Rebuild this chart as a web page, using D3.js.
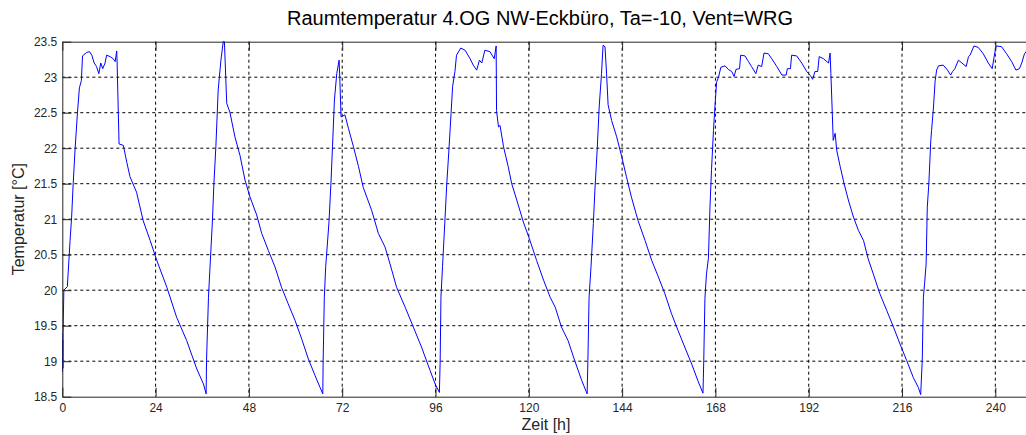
<!DOCTYPE html>
<html>
<head>
<meta charset="utf-8">
<script src="https://cdn.jsdelivr.net/npm/d3@7"></script>
<style>
  html, body { margin: 0; padding: 0; background: #fff; overflow: hidden; }
  svg { display: block; font-family: Arial, "Liberation Sans", sans-serif; }
</style>
</head>
<body>
<svg width="1026" height="435"></svg>
<script>
// Zeit [h] and Raumtemperatur [°C]
const hours = [
  0, 0.05, 0.1, 0.15, 0.2, 0.4, 1.3, 2.0, 2.4, 2.8, 3.3, 3.9, 4.4, 4.9, 5.2, 6.3, 7.0, 7.6, 8.2, 8.8,
  9.4, 9.9, 10.4, 11.0, 11.4, 12.3, 13.1, 13.6, 14.0, 14.1, 14.6, 15.7, 16.6, 17.4, 19.1, 20.8, 22.6, 24.3, 26.9, 29.4,
  32.0, 34.6, 36.3, 37.0, 37.1, 37.6, 38.0, 38.6, 39.0, 39.5, 40.1, 40.8, 41.4, 41.7, 42.3, 43.1, 44.4, 45.7, 47.0, 48.3,
  50.0, 51.3, 53.0, 54.7, 56.4, 58.1, 59.9, 61.6, 63.3, 65.0, 66.3, 67.0, 67.1, 67.4, 67.75, 68.6, 69.1, 69.5, 70.0, 70.6,
  71.2, 71.4, 71.7, 72.7, 73.6, 74.9, 76.2, 77.4, 79.6, 81.3, 83.0, 84.3, 86.0, 88.2, 90.3, 92.4, 94.6, 95.9, 97.0, 97.2,
  97.4, 97.8, 98.4, 98.9, 99.5, 100.0, 100.4, 101.0, 101.4, 102.5, 103.6, 104.9, 105.7, 106.6, 107.3, 107.9, 108.7, 110.0, 111.1, 111.6,
  111.7, 112.2, 112.6, 113.5, 114.7, 115.6, 116.9, 118.6, 120.3, 122.0, 123.8, 125.5, 126.8, 128.4, 130.1, 131.8, 133.6, 135.0, 135.2, 135.5,
  136.0, 136.6, 137.0, 137.6, 138.1, 138.7, 139.1, 139.6, 140.0, 140.4, 141.3, 142.6, 143.9, 145.1, 146.4, 148.1, 149.9, 151.6, 153.3, 155.0,
  156.7, 158.4, 160.1, 161.9, 163.6, 164.8, 165.0, 165.3, 165.7, 166.2, 166.6, 167.0, 167.5, 167.9, 168.3, 168.8, 169.4, 170.5, 171.3, 172.2,
  172.8, 173.3, 174.2, 174.5, 175.6, 176.5, 177.3, 178.4, 179.0, 179.9, 180.5, 181.6, 182.5, 183.8, 185.1, 186.2, 186.5, 187.3, 187.6, 188.9,
  190.2, 191.5, 192.6, 193.0, 193.6, 194.3, 194.7, 195.8, 197.1, 197.5, 197.7, 198.1, 198.3, 198.8, 199.2, 200.1, 201.1, 202.2, 203.5, 204.8,
  206.1, 207.3, 208.6, 210.3, 212.1, 213.8, 215.5, 217.2, 218.9, 220.2, 220.8, 221.2, 221.5, 221.8, 222.2, 222.5, 222.9, 223.4, 223.6, 224.1,
  224.5, 224.9, 225.4, 226.6, 227.7, 228.5, 229.0, 229.6, 230.5, 231.4, 232.5, 233.1, 233.5, 234.5, 235.6, 236.9, 238.2, 239.2, 239.7, 240.2,
  241.6, 242.9, 244.2, 245.3, 246.2, 246.8, 247.5, 248.5
];
const temps = [
  19.4, 18.85, 19.3, 18.9, 19.4, 20.0, 20.05, 20.7, 21.03, 21.5, 22.0, 22.5, 22.85, 22.95, 23.3, 23.35, 23.36, 23.31, 23.2, 23.15,
  23.05, 23.2, 23.12, 23.2, 23.31, 23.29, 23.26, 23.22, 23.37, 23.2, 22.06, 22.04, 21.8, 21.6, 21.38, 20.98, 20.7, 20.42, 20.04, 19.62,
  19.29, 18.89, 18.68, 18.54, 19.01, 19.9, 20.33, 20.96, 21.5, 22.02, 22.82, 23.24, 23.5, 23.5, 22.63, 22.51, 22.16, 21.9, 21.55, 21.31,
  21.06, 20.8, 20.56, 20.33, 20.04, 19.81, 19.57, 19.31, 19.03, 18.8, 18.63, 18.54, 19.01, 19.9, 20.33, 20.96, 21.5, 22.02, 22.68, 23.05,
  23.24, 22.96, 22.44, 22.47, 22.28, 22.02, 21.74, 21.45, 21.12, 20.8, 20.61, 20.37, 20.04, 19.76, 19.48, 19.2, 18.87, 18.68, 18.56, 19.01,
  19.9, 20.33, 20.96, 21.5, 22.02, 22.49, 22.87, 23.08, 23.31, 23.41, 23.38, 23.26, 23.17, 23.1, 23.24, 23.2, 23.38, 23.36, 23.26, 23.44,
  22.53, 22.3, 22.32, 22.02, 21.74, 21.5, 21.27, 20.96, 20.7, 20.42, 20.14, 19.9, 19.76, 19.48, 19.29, 19.01, 18.73, 18.54, 19.01, 19.9,
  20.33, 20.94, 21.41, 21.99, 22.58, 23.05, 23.45, 23.43, 23.05, 22.61, 22.39, 22.16, 21.88, 21.6, 21.31, 20.98, 20.7, 20.42, 20.19, 19.95,
  19.67, 19.43, 19.2, 18.96, 18.71, 18.55, 19.01, 19.88, 20.23, 20.45, 21.17, 21.7, 22.25, 22.6, 22.93, 23.0, 23.14, 23.16, 23.11, 23.08,
  23.01, 23.11, 23.12, 23.31, 23.3, 23.22, 23.15, 23.05, 23.17, 23.15, 23.34, 23.33, 23.26, 23.15, 23.03, 23.03, 23.12, 23.12, 23.31, 23.3,
  23.2, 23.08, 23.01, 22.97, 23.08, 23.08, 23.29, 23.26, 23.2, 23.34, 23.05, 22.44, 22.11, 22.21, 21.97, 21.74, 21.5, 21.27, 21.03, 20.84,
  20.7, 20.44, 20.23, 19.95, 19.71, 19.48, 19.24, 19.01, 18.77, 18.63, 18.53, 19.01, 19.9, 20.09, 20.37, 21.17, 21.5, 22.11, 22.25, 22.58,
  22.94, 23.1, 23.16, 23.17, 23.1, 23.03, 23.08, 23.12, 23.24, 23.2, 23.15, 23.29, 23.31, 23.44, 23.42, 23.33, 23.2, 23.12, 23.29, 23.44,
  23.43, 23.33, 23.22, 23.1, 23.12, 23.2, 23.33, 23.4
];
const xTicks = [0, 24, 48, 72, 96, 120, 144, 168, 192, 216, 240];
const yTicks = [18.5, 19, 19.5, 20, 20.5, 21, 21.5, 22, 22.5, 23, 23.5];

const titleText = "Raumtemperatur 4.OG NW-Eckbüro, Ta=-10, Vent=WRG";
const xLabelText = "Zeit [h]";
const yLabelText = "Temperatur [°C]";

const svg = d3.select("svg");

// plot box; the right part runs past the window edge like in the picture
const margin = { left: 62.3, top: 41.7 };
const plotW = 971.9;
const plotH = 355;

const x = d3.scaleLinear().domain([0, 250]).range([margin.left, margin.left + plotW]);
const y = d3.scaleLinear().domain([18.5, 23.5]).range([margin.top + plotH, margin.top]);

// grid
const grid = svg.append("g")
  .attr("stroke", "#000")
  .attr("stroke-width", 1)
  .attr("stroke-dasharray", "3,3");

grid.selectAll(".vgrid")
  .data(xTicks.filter(d => d > 0))
  .join("line")
  .attr("x1", d => x(d)).attr("x2", d => x(d))
  .attr("y1", y(23.5)).attr("y2", y(18.5));

grid.selectAll(".hgrid")
  .data(yTicks.filter(d => d > 18.5 && d < 23.5))
  .join("line")
  .attr("y1", d => y(d)).attr("y2", d => y(d))
  .attr("x1", x(0)).attr("x2", x(250));

// curve
svg.append("clipPath").attr("id", "clip")
  .append("rect")
  .attr("x", margin.left).attr("y", margin.top - 1)
  .attr("width", plotW).attr("height", plotH + 1);

const line = d3.line()
  .x((d, i) => x(hours[i]))
  .y(d => y(d));

svg.append("path")
  .datum(temps)
  .attr("clip-path", "url(#clip)")
  .attr("fill", "none")
  .attr("stroke", "#0000ff")
  .attr("stroke-width", 1)
  .attr("stroke-linejoin", "round")
  .attr("d", line);

// axes
const fmt = d3.format("~g");

const xAxis = svg.append("g")
  .attr("transform", `translate(0,${y(18.5)})`)
  .call(d3.axisBottom(x).tickValues(xTicks).tickFormat(fmt).tickSizeInner(-9).tickSizeOuter(0).tickPadding(7));

const xTop = svg.append("g")
  .attr("transform", `translate(0,${y(23.5)})`)
  .call(d3.axisTop(x).tickValues(xTicks).tickFormat("").tickSizeInner(-9).tickSizeOuter(0));

const yAxis = svg.append("g")
  .attr("transform", `translate(${x(0)},0)`)
  .call(d3.axisLeft(y).tickValues(yTicks).tickFormat(fmt).tickSizeInner(-9).tickSizeOuter(0).tickPadding(5));

[xAxis, xTop, yAxis].forEach(g => {
  g.select(".domain").attr("stroke", "#262626");
  g.selectAll(".tick line").attr("stroke", "#262626");
  g.selectAll(".tick text")
    .attr("fill", "#262626")
    .style("font-size", "12px")
    .style("font-family", "Arial, 'Liberation Sans', sans-serif");
});

// texts
svg.append("text")
  .attr("x", 540)
  .attr("y", 25)
  .attr("text-anchor", "middle")
  .attr("fill", "#000")
  .style("font-size", "20px")
  .text(titleText);

svg.append("text")
  .attr("x", 546)
  .attr("y", 430)
  .attr("text-anchor", "middle")
  .attr("fill", "#262626")
  .style("font-size", "16px")
  .text(xLabelText);

svg.append("text")
  .attr("transform", `translate(24,${margin.top + plotH / 2}) rotate(-90)`)
  .attr("text-anchor", "middle")
  .attr("fill", "#262626")
  .style("font-size", "16px")
  .text(yLabelText);
</script>
</body>
</html>
